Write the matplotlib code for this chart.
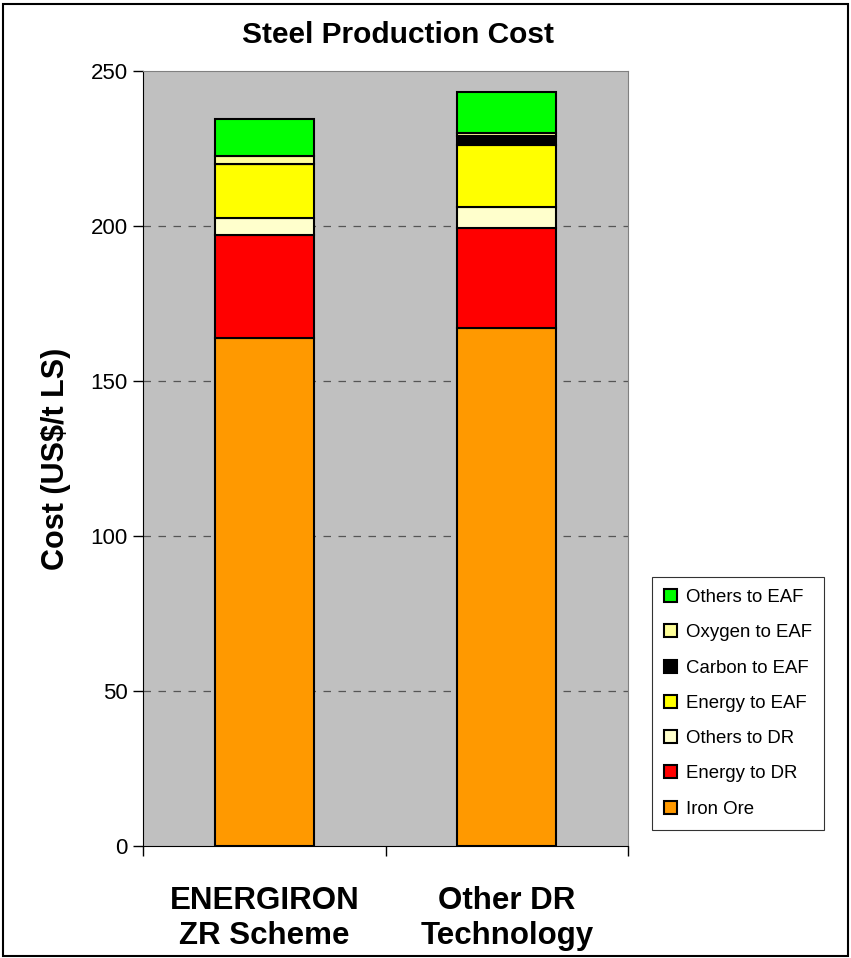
import numpy as np
import matplotlib
matplotlib.use("Agg")
import matplotlib.pyplot as plt
from matplotlib.patches import Rectangle

plt.rcParams['font.family'] = ['Liberation Sans', 'DejaVu Sans']

# data (US$/t liquid steel)
categories = ['ENERGIRON\nZR Scheme', 'Other DR\nTechnology']
components = ['Iron Ore', 'Energy to DR', 'Others to DR', 'Energy to EAF',
              'Carbon to EAF', 'Oxygen to EAF', 'Others to EAF']
iron_ore = [164.0, 167.0]
energy_dr = [33.0, 32.2]
others_dr = [5.7, 7.0]
energy_eaf = [17.4, 19.9]
carbon_eaf = [0.0, 3.0]
oxygen_eaf = [2.6, 1.0]
others_eaf = [11.8, 13.1]
colors = ['#FF9900', '#FF0000', '#FFFFCC', '#FFFF00', '#000000', '#FFFF99', '#00FF00']

values = [iron_ore, energy_dr, others_dr, energy_eaf, carbon_eaf, oxygen_eaf, others_eaf]

fig = plt.figure(figsize=(8.51, 9.58), dpi=100)
ax = fig.add_axes([143 / 851, 1 - 846 / 958, (628 - 143) / 851, (846 - 71) / 958])
ax.set_facecolor('#C0C0C0')

x = np.arange(len(categories))
bottom = np.zeros(len(categories))
handles = []
for name, vals, c in zip(components, values, colors):
    b = ax.bar(x, vals, width=0.41, bottom=bottom, color=c, edgecolor='black',
               linewidth=1.5, label=name, zorder=3)
    handles.append(b)
    bottom += np.array(vals)

ax.set_xlim(-0.5, 1.5)
ax.set_ylim(0, 250)
ax.set_yticks([0, 50, 100, 150, 200, 250])
ax.tick_params(axis='y', labelsize=16, direction='out', length=7, width=1, pad=4)
for yv in [50, 100, 150, 200]:
    ax.axhline(yv, color='#555555', linestyle=(0, (6, 6)), linewidth=0.9, zorder=1)

ax.set_xticks([-0.5, 0.5, 1.5])
ax.set_xticklabels([])
ax.set_xticks(x, minor=True)
ax.set_xticklabels(categories, minor=True, fontsize=22.5, fontweight='bold', linespacing=1.2)
ax.tick_params(axis='x', which='major', direction='out', length=7, width=1)
ax.tick_params(axis='x', which='minor', length=0, pad=29)

for s in ['top', 'right']:
    ax.spines[s].set_color('#808080')
for s in ['left', 'bottom']:
    ax.spines[s].set_color('black')

ax.set_ylabel('Cost (US$/t LS)', fontsize=22, fontweight='bold', labelpad=14)
fig.text(0.468, 1 - 35 / 958, 'Steel Production Cost', ha='center', va='center',
         fontsize=21.5, fontweight='bold')

leg = fig.legend(handles[::-1], components[::-1], loc='upper left',
                 bbox_to_anchor=(652 / 851, 1 - 577 / 958), fontsize=13.4,
                 frameon=True, fancybox=False, edgecolor='black', handlelength=0.7,
                 handleheight=0.7, handletextpad=0.45, labelspacing=0.98,
                 borderpad=0.65, borderaxespad=0)
leg.get_frame().set_linewidth(0.8)

fig.patches.append(Rectangle((0.003, 0.002), 0.994, 0.994, transform=fig.transFigure,
                             fill=False, edgecolor='black', linewidth=1.5))

fig.savefig('out.png', dpi=100)
